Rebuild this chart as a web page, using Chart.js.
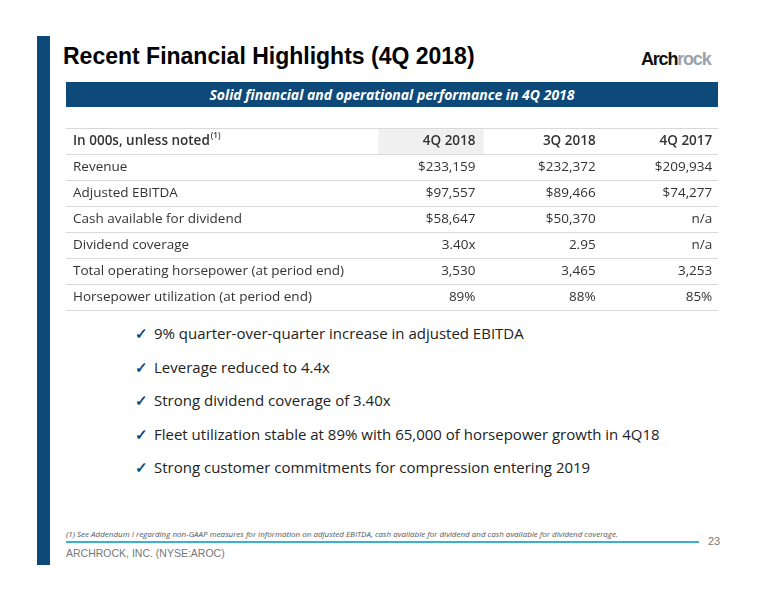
<!DOCTYPE html>
<html><head><meta charset="utf-8">
<script src="https://cdn.jsdelivr.net/npm/chart.js@4"></script>
<style>
body{margin:0;width:776px;height:600px;background:#fff;position:relative;overflow:hidden;font-family:"Noto Sans",sans-serif}
.abs{position:absolute}
#bar{left:37px;top:36px;width:13px;height:529px;background:#0d4a7a}
#title{left:63px;top:43px;font:bold 23px "Liberation Sans",Arial,sans-serif;color:#000}
#logo{left:641px;top:49px;font:bold 18px "Liberation Sans",Arial,sans-serif;letter-spacing:-1.2px;color:#111}
#logo span{color:#9aa3ad}
#banner{left:66px;top:82px;width:652px;height:25px;background:#0d4a7a;color:#fff;text-align:center;font:italic bold 14px "Open Sans",sans-serif;line-height:25px}
#tbl{left:66px;top:126px;width:652px;height:186px}
ul{position:absolute;left:135px;top:323px;margin:0;padding:0;list-style:none;font:15px "Open Sans",sans-serif;color:#222}
li{height:33.5px}
li b{color:#0d4a7a;margin-right:6px;font-weight:bold}
#note{left:66px;top:528px;font:italic 8px "Open Sans",sans-serif;color:#555}
#rule{left:66px;top:541px;width:633px;height:2px;background:#3ab0d8}
#pg{left:708px;top:535px;font:11px "Liberation Sans",Arial;color:#777}
#foot{left:66px;top:547px;font:10.5px "Liberation Sans",Arial;color:#777}
</style></head><body>
<div class="abs" id="bar"></div>
<div class="abs" id="title">Recent Financial Highlights (4Q 2018)</div>
<div class="abs" id="logo">Arch<span>rock</span></div>
<div class="abs" id="banner">Solid financial and operational performance in 4Q 2018</div>
<div class="abs" id="tbl"><canvas id="c"></canvas></div>
<ul>
<li><b>✓</b>9% quarter-over-quarter increase in adjusted EBITDA</li>
<li><b>✓</b>Leverage reduced to 4.4x</li>
<li><b>✓</b>Strong dividend coverage of 3.40x</li>
<li><b>✓</b>Fleet utilization stable at 89% with 65,000 of horsepower growth in 4Q18</li>
<li><b>✓</b>Strong customer commitments for compression entering 2019</li>
</ul>
<div class="abs" id="note">(1) See Addendum I regarding non-GAAP measures for information on adjusted EBITDA, cash available for dividend and cash available for dividend coverage.</div>
<div class="abs" id="rule"></div>
<div class="abs" id="pg">23</div>
<div class="abs" id="foot">ARCHROCK, INC. (NYSE:AROC)</div>
<script>
const columns = ["4Q 2018","3Q 2018","4Q 2017"];
const rowLabels = ["Revenue","Adjusted EBITDA","Cash available for dividend","Dividend coverage","Total operating horsepower (at period end)","Horsepower utilization (at period end)"];
const col4Q18 = ["$233,159","$97,557","$58,647","3.40x","3,530","89%"];
const col3Q18 = ["$232,372","$89,466","$50,370","2.95","3,465","88%"];
const col4Q17 = ["$209,934","$74,277","n/a","n/a","3,253","85%"];
const headerLabel = "In 000s, unless noted";
const cats = ["header"].concat(rowLabels);
const colData = [col4Q18, col3Q18, col4Q17];
const colX = [3.58, 4.63, 5.65];

const tablePlugin = {
  id:'table',
  beforeDatasetsDraw(chart){
    const {ctx, scales:{x,y}} = chart;
    const L = x.getPixelForValue(0), R = x.getPixelForValue(5.7);
    const h = y.getPixelForValue(1)-y.getPixelForValue(0);
    ctx.save();
    ctx.fillStyle='#f0f0f0';
    ctx.fillRect(x.getPixelForValue(2.73), y.getPixelForValue(0)-h/2, x.getPixelForValue(3.65)-x.getPixelForValue(2.73), h);
    ctx.strokeStyle='#d9d9d9'; ctx.lineWidth=1;
    for(let i=0;i<=cats.length;i++){
      const yy=Math.round(y.getPixelForValue(i)-h/2)+0.5;
      ctx.beginPath();ctx.moveTo(L,yy);ctx.lineTo(R,yy);ctx.stroke();
    }
    ctx.textBaseline='middle';
    const tx=L+7;
    ctx.font='600 13.5px "Open Sans"'; ctx.fillStyle='#333'; ctx.textAlign='left';
    const y0=y.getPixelForValue(0);
    ctx.fillText(headerLabel,tx,y0);
    const w=ctx.measureText(headerLabel).width;
    ctx.font='600 8px "Open Sans"'; ctx.fillText('(1)',tx+w+1,y0-5);
    ctx.font='600 13.5px "Open Sans"'; ctx.textAlign='right';
    columns.forEach((c,j)=>ctx.fillText(c,x.getPixelForValue(colX[j]),y0));
    ctx.font='13.5px "Open Sans"'; ctx.fillStyle='#333';
    rowLabels.forEach((r,i)=>{
      const yy=y.getPixelForValue(i+1);
      ctx.textAlign='left'; ctx.fillText(r,tx,yy);
      ctx.textAlign='right';
      colData.forEach((col,j)=>ctx.fillText(col[i],x.getPixelForValue(colX[j]),yy));
    });
    ctx.restore();
  }
};
new Chart(document.getElementById('c'),{
  type:'scatter',
  data:{labels:cats,datasets:[{data:[],showLine:false}]},
  options:{responsive:true,maintainAspectRatio:false,animation:false,
    layout:{padding:{top:2,bottom:2,left:0,right:0}},
    plugins:{legend:{display:false},tooltip:{enabled:false}},
    scales:{
      x:{type:'linear',min:0,max:5.7,display:false},
      y:{type:'category',labels:cats,offset:true,display:false}
    }},
  plugins:[tablePlugin]
});
</script>
</body></html>
